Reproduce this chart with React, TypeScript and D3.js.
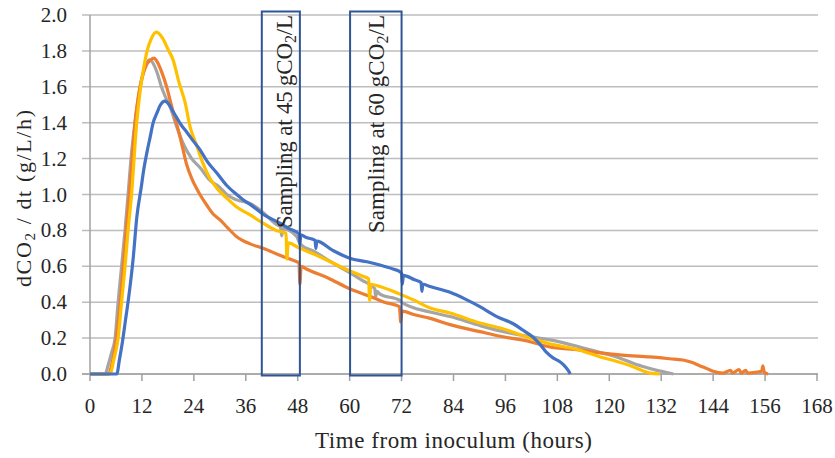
import React from "react";
import * as d3 from "d3";

// ---- data (hours, dCO2/dt in g/L/h) ----
const grayHours = [0, 3.5, 4.2, 5, 5.8, 6.5, 7.3, 8.1, 8.8, 9.6, 10.5, 11.6, 12.6, 13.4, 13.9, 14.6, 15.5, 16.5, 17.5, 18.5, 20, 21.6, 23.5, 25.4, 27.7, 30, 31.6, 33.9, 37, 40, 43, 44, 44.3, 44.6, 47.8, 48.5, 52, 56, 60, 63, 65.8, 66, 66.3, 67, 71.6, 72, 78.6, 83.2, 90.1, 94.8, 101.7, 106.3, 113, 117.9, 121, 125.5, 128, 131, 133, 134.8];
const grayValues = [0, 0, 0.05, 0.12, 0.2, 0.4, 0.6, 0.8, 1.0, 1.23, 1.42, 1.6, 1.7, 1.745, 1.75, 1.73, 1.68, 1.6, 1.54, 1.49, 1.38, 1.28, 1.2, 1.15, 1.08, 1.04, 1.0, 0.97, 0.95, 0.9, 0.835, 0.82, 0.77, 0.81, 0.765, 0.725, 0.68, 0.62, 0.565, 0.52, 0.475, 0.43, 0.46, 0.445, 0.41, 0.4, 0.345, 0.32, 0.27, 0.24, 0.208, 0.19, 0.152, 0.12, 0.1, 0.06, 0.04, 0.02, 0.01, 0];

const orangeHours = [0, 4.3, 5, 5.8, 6.2, 7, 7.7, 8.3, 8.9, 9.6, 10.4, 11.2, 11.9, 13, 14, 14.8, 15.5, 16.6, 17.7, 19, 20.4, 21.5, 22.3, 23.5, 24.7, 25.4, 27, 28.5, 30, 31.6, 33.9, 37, 40, 44, 47.8, 48.3, 48.5, 48.8, 50, 55, 60, 65, 68, 71.5, 71.8, 72.1, 75, 78.6, 83.2, 90.1, 94.8, 101.7, 106, 113, 117.9, 123, 129.4, 134, 137, 139, 141, 142.6, 144, 146.3, 148, 148.5, 150, 150.5, 151.5, 152, 154, 155.2, 155.5, 155.8, 156.7];
const orangeValues = [0, 0, 0.05, 0.15, 0.22, 0.4, 0.6, 0.78, 0.95, 1.15, 1.4, 1.55, 1.64, 1.72, 1.75, 1.76, 1.74, 1.68, 1.6, 1.48, 1.36, 1.25, 1.17, 1.09, 1.03, 1.0, 0.94, 0.89, 0.86, 0.82, 0.765, 0.725, 0.7, 0.66, 0.625, 0.62, 0.5, 0.6, 0.585, 0.535, 0.475, 0.43, 0.4, 0.375, 0.29, 0.35, 0.33, 0.31, 0.275, 0.236, 0.21, 0.18, 0.152, 0.134, 0.118, 0.105, 0.095, 0.085, 0.078, 0.065, 0.045, 0.03, 0.015, 0.005, 0.02, 0.005, 0.025, 0.005, 0.02, 0.005, 0.01, 0.015, 0.045, 0.01, 0];

const yellowHours = [0, 4.6, 5.5, 6.5, 7.3, 8.1, 8.8, 9.6, 10.8, 11.5, 12.3, 13.2, 14.2, 15.3, 15.8, 16.8, 18, 19.2, 20.5, 22, 23.1, 24.7, 26, 27.7, 29.5, 31.6, 33.9, 37, 40, 43, 45.3, 45.5, 45.8, 48.5, 52, 56, 60, 63, 64.4, 64.6, 64.9, 67, 71.6, 75, 78.6, 83.2, 90.1, 94.8, 101.7, 106, 113, 117.9, 121, 125.5, 128, 129.4, 131.7];
const yellowValues = [0, 0, 0.08, 0.2, 0.4, 0.6, 0.8, 1.0, 1.4, 1.56, 1.69, 1.8, 1.87, 1.905, 1.9, 1.87, 1.81, 1.75, 1.63, 1.51, 1.38, 1.27, 1.18, 1.09, 1.03, 0.98, 0.93, 0.886, 0.84, 0.8, 0.785, 0.64, 0.73, 0.7, 0.665, 0.62, 0.575, 0.545, 0.53, 0.41, 0.5, 0.487, 0.445, 0.41, 0.368, 0.34, 0.284, 0.256, 0.2, 0.17, 0.134, 0.095, 0.075, 0.04, 0.015, 0.005, 0];

const blueHours = [0, 6.2, 6.8, 7.5, 8.2, 8.9, 10, 10.8, 11.9, 12.3, 13.2, 13.9, 14.6, 15.4, 16.3, 17.3, 18.3, 19, 20, 21, 22.3, 23.8, 25.4, 27.2, 29.3, 31.6, 33.9, 36, 37, 40, 43.9, 46, 48.3, 48.5, 48.7, 50, 52, 52.2, 52.4, 56, 60, 64, 67, 70, 71.6, 72, 72.2, 72.4, 75, 76.5, 76.7, 76.9, 78.6, 83.2, 86.5, 90.1, 94, 97.8, 100, 102.4, 104, 105.5, 107, 108.5, 109.5, 110.5, 111];
const blueValues = [0, 0, 0.08, 0.18, 0.3, 0.42, 0.65, 0.87, 1.05, 1.12, 1.24, 1.32, 1.4, 1.45, 1.5, 1.52, 1.5, 1.47, 1.43, 1.39, 1.35, 1.3, 1.25, 1.18, 1.12, 1.05, 1.0, 0.96, 0.945, 0.89, 0.84, 0.81, 0.78, 0.72, 0.775, 0.76, 0.745, 0.7, 0.74, 0.69, 0.645, 0.625, 0.607, 0.585, 0.57, 0.56, 0.5, 0.55, 0.525, 0.51, 0.46, 0.5, 0.487, 0.455, 0.42, 0.375, 0.32, 0.28, 0.245, 0.205, 0.165, 0.12, 0.09, 0.07, 0.05, 0.02, 0];

const xTicks = [0, 12, 24, 36, 48, 60, 72, 84, 96, 108, 120, 132, 144, 156, 168];
const yTicks = [0, 0.2, 0.4, 0.6, 0.8, 1.0, 1.2, 1.4, 1.6, 1.8, 2.0];

const boxRanges = [[39.7, 48.5], [60.1, 72]];
const boxLabels = ["45", "60"];

const seriesColors = ["#A5A5A5", "#ED7D31", "#FFC000", "#4472C4"];

export default function App() {
  const W = 835, H = 458;
  const x = d3.scaleLinear().domain([0, 168]).range([90, 817]);
  const y = d3.scaleLinear().domain([0, 2]).range([374, 15]);
  const font = "'Liberation Serif', 'Times New Roman', serif";
  const textColor = "#262626";

  const series = [
    [grayHours, grayValues],
    [orangeHours, orangeValues],
    [yellowHours, yellowValues],
    [blueHours, blueValues],
  ];
  const line = d3
    .line<[number, number]>()
    .x((d) => x(d[0]))
    .y((d) => y(d[1]))
    .curve(d3.curveMonotoneX);

  const boxTextX = [292, 384];
  const boxTextY = [228, 233];
  const boxTextLen = [213, 218];

  return (
    <svg
      width={W}
      height={H}
      style={{ position: "absolute", left: 0, top: 0, background: "#fff" }}
    >
      {/* gridlines */}
      {yTicks.map((t) => (
        <line
          key={"g" + t}
          x1={82}
          x2={818}
          y1={y(t)}
          y2={y(t)}
          stroke="#BDBDBD"
          strokeWidth={1.5}
        />
      ))}
      {/* axes */}
      <line x1={x(0)} x2={x(0)} y1={y(2)} y2={y(0)} stroke="#A0A0A0" strokeWidth={1.5} />
      <line x1={82} x2={818} y1={y(0)} y2={y(0)} stroke="#A0A0A0" strokeWidth={1.5} />
      {xTicks.map((t) => (
        <line key={"t" + t} x1={x(t)} x2={x(t)} y1={y(0)} y2={y(0) + 7} stroke="#A0A0A0" strokeWidth={1.5} />
      ))}
      {/* tick labels */}
      {yTicks.map((t) => (
        <text
          key={"yl" + t}
          x={67}
          y={y(t) + 7}
          textAnchor="end"
          fontFamily={font}
          fontSize={21}
          fill={textColor}
        >
          {t.toFixed(1)}
        </text>
      ))}
      {xTicks.map((t) => (
        <text
          key={"xl" + t}
          x={x(t)}
          y={413}
          textAnchor="middle"
          fontFamily={font}
          fontSize={21}
          fill={textColor}
        >
          {t}
        </text>
      ))}
      {/* axis titles */}
      <text
        x={315}
        y={448}
        fontFamily={font}
        fontSize={23}
        fill={textColor}
        textLength={277}
        lengthAdjust="spacing"
      >
        Time from inoculum (hours)
      </text>
      <text
        transform="translate(31,287) rotate(-90)"
        fontFamily={font}
        fontSize={22}
        fill={textColor}
        textLength={177}
        lengthAdjust="spacing"
      >
        dCO<tspan dy={4} fontSize={15}>2</tspan>
        <tspan dy={-4}> / dt (g/L/h)</tspan>
      </text>
      {/* series */}
      {series.map(([hs, vs], i) => (
        <path
          key={"s" + i}
          d={line(hs.map((h, j) => [h, vs[j]] as [number, number])) || ""}
          fill="none"
          stroke={seriesColors[i]}
          strokeWidth={3.2}
          strokeLinejoin="round"
        />
      ))}
      {/* sampling boxes */}
      {boxRanges.map((r, i) => (
        <g key={"b" + i}>
          <rect
            x={x(r[0])}
            y={11.5}
            width={x(r[1]) - x(r[0])}
            height={375.5 - 11.5}
            fill="none"
            stroke="#2F5597"
            strokeWidth={2}
          />
          <text
            transform={`translate(${boxTextX[i]},${boxTextY[i]}) rotate(-90)`}
            fontFamily={font}
            fontSize={23}
            fill={textColor}
            textLength={boxTextLen[i]}
            lengthAdjust="spacing"
          >
            Sampling at {boxLabels[i]} gCO<tspan dy={4} fontSize={16}>2</tspan>
            <tspan dy={-4}>/L</tspan>
          </text>
        </g>
      ))}
    </svg>
  );
}
